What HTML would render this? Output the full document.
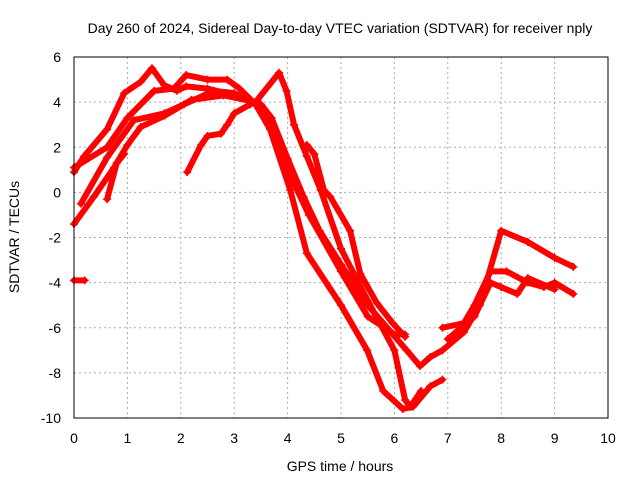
<!DOCTYPE html>
<html><head><meta charset="utf-8"><style>
body{margin:0;background:#fff}
svg{display:block;font-family:"Liberation Sans",sans-serif}
</style></head><body>
<svg id="c" width="640" height="480">
<rect width="640" height="480" fill="#fff"/>
<text x="340" y="33" font-size="14" text-anchor="middle">Day 260 of 2024, Sidereal Day-to-day VTEC variation (SDTVAR) for receiver nply</text>
<text x="340" y="471" font-size="14" text-anchor="middle">GPS time / hours</text>
<text x="19" y="237" font-size="14" text-anchor="middle" transform="rotate(-90 19 237)">SDTVAR / TECUs</text>
<g id="grid"></g><g id="marks"></g>
<rect x="74" y="57" width="534" height="361" fill="none" stroke="#000"/>
</svg>
<script>
const xTicks=[0,1,2,3,4,5,6,7,8,9,10];
const yTicks=[-10,-8,-6,-4,-2,0,2,4,6];
const trackA=[[0,0.9],[0.19,1.6],[0.62,2.8],[0.94,4.4],[1.25,4.9],[1.46,5.5],[1.69,4.75],[1.93,4.5],[2.1,4.7],[2.5,4.6],[3.0,4.3],[3.5,3.9],[3.7,3.3],[4.0,1.5],[4.3,-0.2],[4.6,-1.7],[5,-3.2],[5.5,-5],[5.9,-6.1],[6.23,-7.0],[6.48,-7.7],[6.67,-7.3],[6.9,-7.0],[7.3,-6.2],[7.6,-5],[8.0,-1.7],[8.5,-2.2],[9,-2.9],[9.35,-3.3]];
const trackB=[[0,1.1],[0.62,2.0],[1.0,3.3],[1.5,4.5],[1.87,4.6],[2.1,5.2],[2.5,5.0],[2.87,5.0],[3.1,4.6],[3.4,3.9],[3.6,3.4],[4.0,1.0],[4.4,-1.0],[5,-3.5],[5.5,-5.5],[6,-6.3],[6.2,-6.3]];
const trackC=[[0.13,-0.5],[0.62,1.55],[1.12,3.2],[1.69,3.5],[2.06,3.9],[2.62,4.5],[3.0,4.4],[3.4,3.9],[3.67,2.8],[4.05,0.1],[4.36,-2.7],[5,-5],[5.49,-7.0],[5.79,-8.8],[6.16,-9.6],[6.35,-9.5],[6.67,-8.6],[6.9,-8.3]];
const trackD=[[0,-1.4],[0.37,-0.2],[0.75,1.1],[1.0,2.1],[1.25,2.9],[1.7,3.4],[2.2,4.1],[2.8,4.3],[3.4,4.0],[3.84,5.3],[3.98,4.5],[4.12,3.0],[4.36,1.6],[4.62,0.1],[5,-2.5],[5.5,-4.8],[6,-7],[6.2,-9.2],[6.3,-9.5],[6.5,-8.8]];
const trackE=[[0.62,-0.3],[0.8,1.3],[0.94,1.7]];
const trackF=[[2.12,0.9],[2.38,2.1],[2.5,2.5],[2.75,2.6],[2.87,3.0],[3.0,3.5],[3.3,3.9]];
const trackG=[[4.36,2.1],[4.5,1.7],[4.68,0.1],[4.8,-0.2],[5.17,-1.7],[5.36,-3.6],[5.67,-4.9],[5.97,-5.8],[6.2,-6.4]];
const trackH=[[6.9,-6.0],[7.3,-5.8],[7.5,-5.0],[7.8,-3.5],[8.1,-3.5],[8.5,-4.0],[8.8,-4.2],[9,-4.0],[9.35,-4.5]];
const trackI=[[7,-6.5],[7.5,-5.5],[7.8,-4.0],[8,-4.2],[8.3,-4.5],[8.5,-3.8],[9,-4.3]];
const trackJ=[[0,-3.9],[0.2,-3.9]];
const tracks=[trackA,trackB,trackC,trackD,trackE,trackF,trackG,trackH,trackI,trackJ];
const X=v=>74+v*53.4, Y=v=>418-(v+10)*361/16;
const NS="http://www.w3.org/2000/svg";
const grid=document.getElementById('grid'),marks=document.getElementById('marks');
function mk(t,a,p){const e=document.createElementNS(NS,t);for(const k in a)e.setAttribute(k,a[k]);p.appendChild(e);return e;}
xTicks.forEach(v=>{
 const l=mk('line',{x1:X(v),x2:X(v),y1:57,y2:418,stroke:'#aaa','stroke-dasharray':'2,3'},grid);
 
 
 const t=mk('text',{x:X(v),y:443,'font-size':14,'text-anchor':'middle'},grid);t.textContent=v;
 
 
});
yTicks.forEach(v=>{
 const l=mk('line',{x1:74,x2:608,y1:Y(v),y2:Y(v),stroke:'#aaa','stroke-dasharray':'2,3'},grid);
 
 
 const t=mk('text',{x:61,y:Y(v)+5,'font-size':14,'text-anchor':'end'},grid);t.textContent=v;
 
 
});
tracks.forEach(tr=>{
 const pl=mk('polyline',{points:tr.map(p=>X(p[0])+','+Y(p[1])).join(' '),fill:'none',stroke:'#f00','stroke-width':6,'stroke-linejoin':'round','stroke-linecap':'round'},marks);
 
 
 tr.forEach(p=>{
  const x=X(p[0]),y=Y(p[1]);
  const m=mk('path',{d:`M${x-4},${y}H${x+4}M${x},${y-4}V${y+4}`,stroke:'#f00','stroke-width':1.5},marks);
  
  
 });
});
</script>
</body></html>
